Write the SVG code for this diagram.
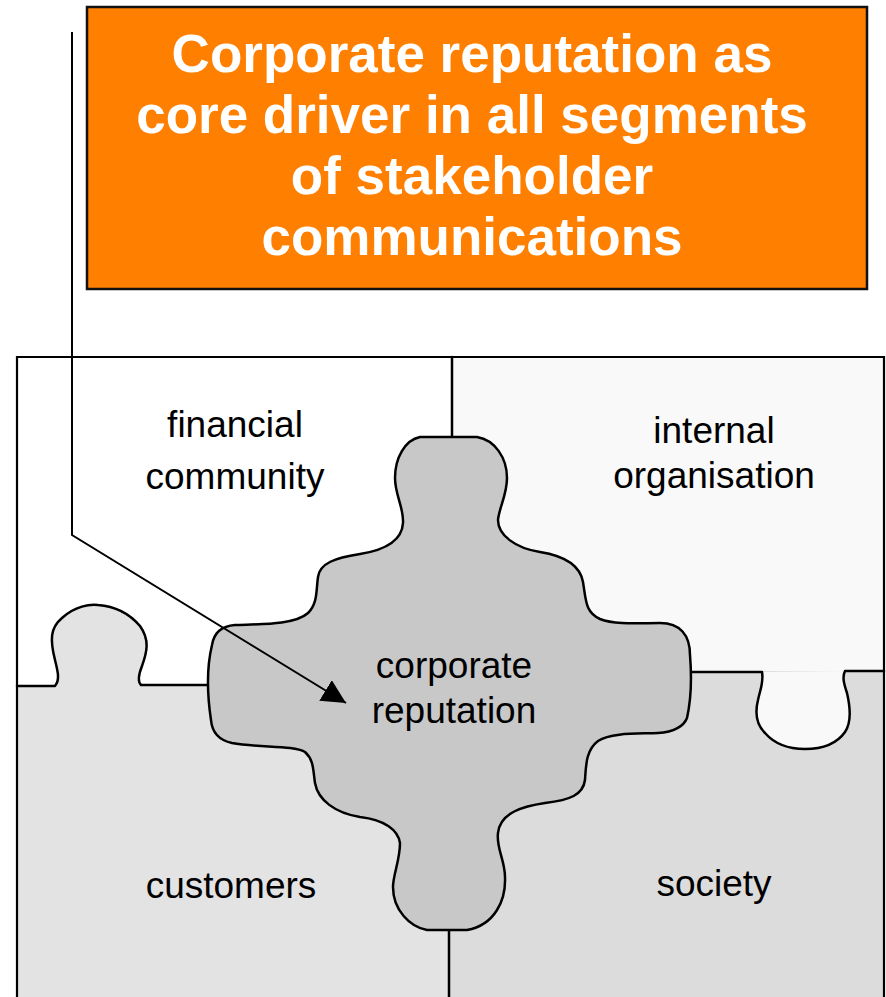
<svg xmlns="http://www.w3.org/2000/svg" width="886" height="997" viewBox="0 0 886 997">
  <style>
    .title { font-family: "Liberation Sans", Arial, sans-serif; font-weight: bold; font-size: 53px; fill: #ffffff; text-anchor: middle; }
    .label { font-family: "Liberation Sans", Arial, sans-serif; font-size: 37px; fill: #000000; text-anchor: middle; }
    .edge { fill: none; stroke: #000; stroke-width: 2.5; stroke-linejoin: round; stroke-linecap: round; }
    .frame { fill: none; stroke: #000; stroke-width: 2.2; }
  </style>
  <defs>
    <marker id="arrowhead" viewBox="0 0 20 20" refX="20" refY="10" markerWidth="24" markerHeight="24" markerUnits="userSpaceOnUse" orient="auto">
      <path d="M0,0 L20,10 L0,20 Z" fill="#000"/>
    </marker>
  </defs>

  <!-- title banner -->
  <g id="title-box">
    <rect x="87" y="7" width="780" height="282" fill="#ff7f00" stroke="#111" stroke-width="2.5"/>
    <text class="title" x="472" y="72">Corporate reputation as</text>
    <text class="title" x="472" y="133">core driver in all segments</text>
    <text class="title" x="472" y="194">of stakeholder</text>
    <text class="title" x="472" y="255">communications</text>
  </g>

  <!-- puzzle quadrants -->
  <g id="financial-community">
    <rect x="17" y="357" width="435" height="329" fill="#ffffff"/>
    <text class="label" x="235" y="437">financial</text>
    <text class="label" x="235" y="489">community</text>
  </g>
  <g id="internal-organisation">
    <rect x="452" y="357" width="432" height="315" fill="#f9f9f9"/>
  </g>
  <g id="customers">
    <rect x="17" y="685" width="433" height="320" fill="#e3e3e3"/>
    <!-- knob reaching up into the upper-left piece -->
    <path d="M55,686 C60,680 58,672 55,660 C50,640 50,628 62,618 C75,606 90,604 98,605 C112,606 128,612 140,626 C150,640 147,652 142,666 C138,676 138,682 141,685 Z" fill="#e3e3e3"/>
    <text class="label" x="231" y="898">customers</text>
  </g>
  <g id="society">
    <rect x="450" y="671" width="434" height="334" fill="#dcdcdc"/>
    <!-- notch taken by the upper-right piece -->
    <path d="M762,672 C764,682 760,690 758,700 C755,712 756,724 765,733 C772,741 785,749 805,749 C825,749 838,742 845,732 C852,722 850,706 847,693 C844,684 842,677 845,671 Z" fill="#f9f9f9"/>
    <text class="label" x="714" y="896">society</text>
  </g>
  <g id="internal-organisation-label">
    <text class="label" x="714" y="443">internal</text>
    <text class="label" x="714" y="488">organisation</text>
  </g>

  <!-- piece borders -->
  <g id="piece-borders">
    <path class="frame" d="M17,1000 L17,357 L884,357 L884,1000"/>
    <path class="edge" d="M452,357 L452,437"/>
    <path class="edge" d="M449,930 L449,1000"/>
    <path class="edge" d="M17,686 L55,686 C60,680 58,672 55,660 C50,640 50,628 62,618 C75,606 90,604 98,605 C112,606 128,612 140,626 C150,640 147,652 142,666 C138,676 138,682 141,685 L211,685"/>
    <path class="edge" d="M690,672 L762,672 C764,682 760,690 758,700 C755,712 756,724 765,733 C772,741 785,749 805,749 C825,749 838,742 845,732 C852,722 850,706 847,693 C844,684 842,677 845,671 L884,671"/>
  </g>

  <!-- central piece -->
  <g id="corporate-reputation">
    <path class="edge" style="fill:#c8c8c8" d="M420,437 L477,437 C495,440 507,458 507,478 C507,495 499,508 498,520 C498,535 515,548 540,552 C565,556 580,565 583,582 C586,600 585,612 600,619 C615,625 640,623 660,623 C680,623 690,635 690,655 C692,680 691,700 687,718 C683,728 672,732 658,733 C640,734 612,732 598,741 C586,750 586,765 585,780 C583,795 570,800 545,803 C525,806 500,812 498,833 C496,848 505,860 505,877 C506,900 495,925 467,930 L427,930 C410,927 393,910 393,887 C393,875 400,860 400,843 C398,830 385,820 360,817 C335,813 318,800 315,783 C313,770 314,760 305,752 C293,745 260,748 232,743 C218,740 212,732 211,720 C208,700 206,670 212,645 C214,632 222,626 235,625 C260,624 295,625 308,613 C318,603 316,590 318,577 C320,563 335,558 360,554 C385,550 402,540 403,523 C404,508 395,495 395,478 C395,458 405,440 420,437 Z"/>
    <text class="label" x="454" y="678">corporate</text>
    <text class="label" x="454" y="723">reputation</text>
  </g>

  <!-- connector from banner to the centre piece -->
  <g id="connectors">
    <path d="M72,32 L72,535 L346,703" fill="none" stroke="#000" stroke-width="2" marker-end="url(#arrowhead)"/>
  </g>
</svg>
